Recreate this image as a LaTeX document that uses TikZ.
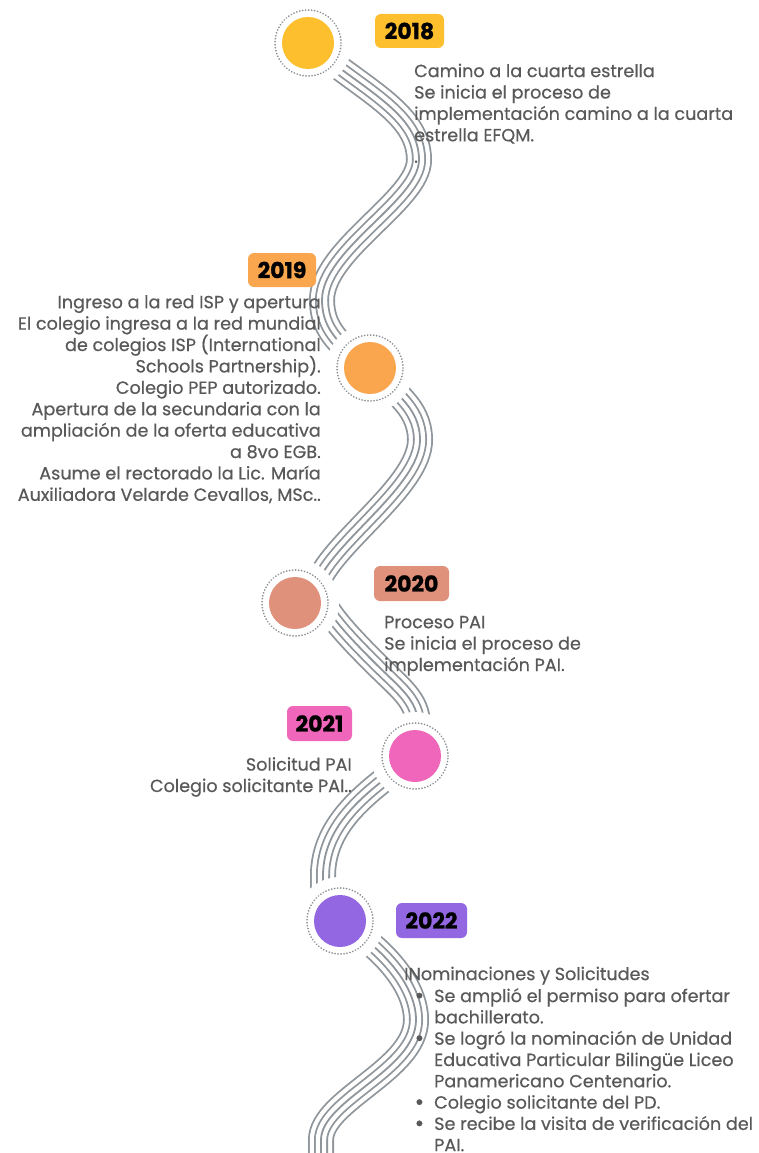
\documentclass[tikz,border=0pt]{standalone}
\usepackage{fontspec}
\setmainfont{Poppins}
\newfontfamily\bodyfont{Poppins}[FakeBold=0.5]
\newfontfamily\yearfont{Poppins}[BoldFeatures={FakeBold=1}]
\definecolor{txt}{HTML}{595959}
\definecolor{road}{HTML}{8E959B}
\definecolor{ringc}{HTML}{8A9096}
\definecolor{cA}{HTML}{FDBF2E}
\definecolor{cB}{HTML}{F9A64F}
\definecolor{cC}{HTML}{E0917B}
\definecolor{cD}{HTML}{F066BA}
\definecolor{cE}{HTML}{9367E1}
\tikzset{
 rg1/.style={draw=road, line width=26pt},
 rw1/.style={draw=white, line width=22.4pt},
 rg2/.style={draw=road, line width=14pt},
 rw2/.style={draw=white, line width=10.4pt},
 rg3/.style={draw=road, line width=1.8pt},
 dot/.style={circle, inner sep=0pt, minimum size=52pt},
 ring/.style={draw=ringc, line width=1.9pt, dash pattern=on 0.01pt off 3pt, line cap=round},
 gap/.style={fill=white},
 yearbox/.style={rounded corners=6pt, inner sep=0pt, minimum height=34pt, font=\yearfont\fontsize{22}{22}\selectfont\bfseries, text=black},
 body/.style={inner sep=0pt, text=txt, font=\bodyfont\fontsize{17.6}{21.4}\selectfont},
}
\newcommand\roadway[1]{\draw[rg1] #1; \draw[rw1] #1; \draw[rg2] #1; \draw[rw2] #1; \draw[rg3] #1;}
\newcommand\itembullet{\makebox[24pt][l]{\hspace{4.5pt}\raisebox{-1.2pt}{\fontsize{23}{23}\selectfont•}}}
\begin{document}
\begin{tikzpicture}[x=1pt,y=-1pt]
\useasboundingbox (0,0) rectangle (758,1153);
\fill[white] (0,0) rectangle (758,1153);
% circle positions
\coordinate (p18) at (308,43);
\coordinate (p19) at (370,368);
\coordinate (p20) at (295,603);
\coordinate (p21) at (415,756);
\coordinate (p22) at (340,921);
% roads
\roadway{(315,49) .. controls (369,93) and (419,115) .. (419,160) .. controls (419,200) and (322,250) .. (322,300) .. controls (322,322) and (332,337) .. (350,352)}
\roadway{(370,368) .. controls (390,390) and (420,405) .. (420,440) .. controls (420,485) and (336,540) .. (318,582) -- (308,605)}
\roadway{(320,595) .. controls (328,615) and (350,638) .. (375,663) .. controls (400,688) and (418,700) .. (418,725) -- (418,750)}
\roadway{(410,760) .. controls (370,790) and (323,822) .. (323,876) -- (323,910)}
\roadway{(345,925) .. controls (383,949) and (416,985) .. (416,1020) .. controls (416,1070) and (321,1100) .. (321,1140) -- (321,1153)}
% gaps, rings and dots
\foreach \p/\c in {p18/cA,p19/cB,p20/cC,p21/cD,p22/cE}{
  \fill[gap] (\p) circle[radius=44pt];
  \draw[ring] (\p) circle[radius=33pt];
}
\node[dot, fill=cA] (n18) at (p18) {};
\node[dot, fill=cB] (n19) at (p19) {};
\node[dot, fill=cC] (n20) at (p20) {};
\node[dot, fill=cD] (n21) at (p21) {};
\node[dot, fill=cE] (n22) at (p22) {};
% year labels
\node[yearbox, fill=cA, minimum width=69pt] (y18) at (409.5,31) {2018};
\node[yearbox, fill=cB, minimum width=68pt] (y19) at (282,270) {2019};
\node[yearbox, fill=cC, minimum width=75pt, minimum height=35pt] (y20) at (411.5,583.5) {2020};
\node[yearbox, fill=cD, minimum width=65pt, minimum height=35pt] (y21) at (319.5,723.5) {2021};
\node[yearbox, fill=cE, minimum width=71pt, minimum height=35pt] (y22) at (431.5,920.5) {2022};
% texts
\node[body, anchor=north west, align=left] (t18) at (414,63.5) {\rule{0pt}{13pt}Camino a la cuarta estrella\\Se inicia el proceso de\\implementación camino a la cuarta\\estrella EFQM.\\.};
\node[body, anchor=north east, align=right] (t19) at (321,295) {\rule{0pt}{13pt}Ingreso a la red ISP y apertura\\El colegio ingresa a la red mundial\\de colegios ISP (International\\Schools Partnership).\\Colegio PEP autorizado.\\Apertura de la secundaria con la\\ampliación de la oferta educativa\\a 8vo EGB.\\Asume el rectorado la Lic. María\\Auxiliadora Velarde Cevallos, MSc..};
\node[body, anchor=north west, align=left] (t20) at (384,615) {\rule{0pt}{13pt}Proceso PAI\\Se inicia el proceso de\\implementación PAI.};
\node[body, anchor=north east, align=right] (t21) at (352,757) {\rule{0pt}{13pt}Solicitud PAI\\Colegio solicitante PAI..};
\node[body, anchor=north west, align=left] (t22) at (404,966.5) {\rule{0pt}{13pt}INominaciones y Solicitudes};
\node[body, anchor=north west, align=left, font=\bodyfont\fontsize{17.6}{21.3}\selectfont] (l22) at (410,988) {\rule{0pt}{13pt}\itembullet Se amplió el permiso para ofertar\\\hspace*{24pt}bachillerato.\\\itembullet Se logró la nominación de Unidad\\\hspace*{24pt}Educativa Particular Bilingüe Liceo\\\hspace*{24pt}Panamericano Centenario.\\\itembullet Colegio solicitante del PD.\\\itembullet Se recibe la visita de verificación del\\\hspace*{24pt}PAI.};
\end{tikzpicture}
\end{document}
